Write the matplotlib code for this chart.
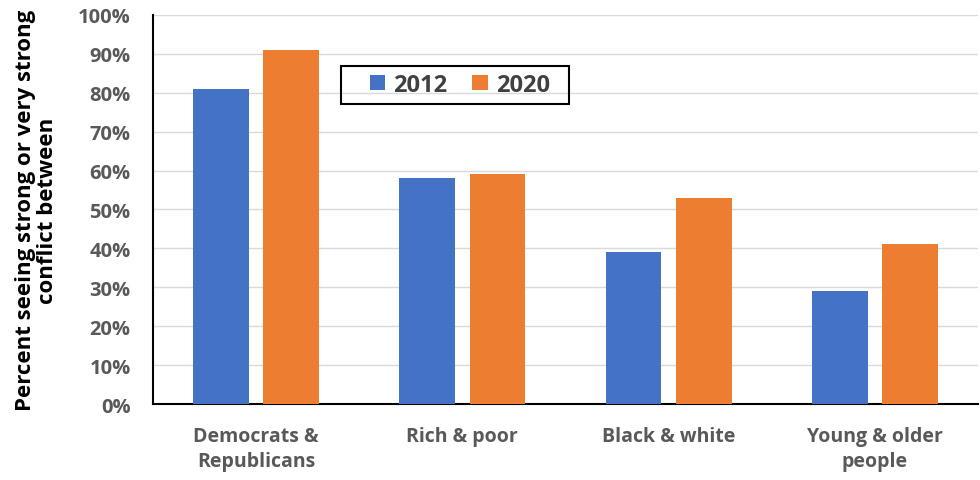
import matplotlib.pyplot as plt
import numpy as np
from matplotlib.patches import Rectangle
from matplotlib.ticker import PercentFormatter

categories = ["Democrats &\nRepublicans", "Rich & poor", "Black & white", "Young & older\npeople"]
vals_2012 = [81, 58, 39, 29]
vals_2020 = [91, 59, 53, 41]
series_labels = ["2012", "2020"]

BLUE = "#4472C4"
ORANGE = "#ED7D31"
GREY = "#595959"

plt.rcParams["font.family"] = ["Open Sans", "DejaVu Sans"]
plt.rcParams["font.weight"] = "bold"

fig = plt.figure(figsize=(9.8, 4.81), dpi=100)
ax = fig.add_axes([0.156, 0.158, 0.842, 0.809])

x = np.arange(len(categories))
w = 0.27
ax.bar(x - 0.17, vals_2012, w, color=BLUE, label=series_labels[0], zorder=3)
ax.bar(x + 0.17, vals_2020, w, color=ORANGE, label=series_labels[1], zorder=3)

ax.set_xlim(-0.5, len(categories) - 0.5)
ax.set_ylim(0, 100)
ax.set_yticks(np.arange(0, 101, 10))
ax.yaxis.set_major_formatter(PercentFormatter(decimals=0))
ax.grid(axis="y", color="#D9D9D9", linewidth=1, zorder=0)
ax.set_xticks(x)
ax.set_xticklabels(categories, fontsize=14, color=GREY, fontweight="bold", linespacing=1.3)
ax.tick_params(axis="y", labelsize=14.5, labelcolor=GREY, length=0, pad=16)
ax.tick_params(axis="x", length=0, pad=16)
for lab in ax.get_yticklabels():
    lab.set_fontweight("bold")

for s in ("top", "right"):
    ax.spines[s].set_visible(False)
for s in ("left", "bottom"):
    ax.spines[s].set_color("black")
    ax.spines[s].set_linewidth(1.5)

ax.set_ylabel("Percent seeing strong or very strong\nconflict between", fontsize=16,
              fontweight="bold", color="black", labelpad=14, linespacing=1.1)

leg = ax.legend(loc="upper left", bbox_to_anchor=(0.263, 0.851), borderaxespad=0,
                ncol=2, fontsize=17, frameon=False,
                handlelength=0.65, handleheight=0.65, columnspacing=1.05,
                handletextpad=0.35, borderpad=0, labelcolor="#404040")
for t in leg.get_texts():
    t.set_fontweight("bold")

# Excel-style legend box: wider padding on the left than on the right
fig.canvas.draw()
bb = leg.get_window_extent()
frame = Rectangle((bb.x0 - 29, bb.y0 - 7), bb.width + 48, bb.height + 14,
                  transform=None, fill=False, edgecolor="black", linewidth=1.5,
                  zorder=5)
fig.add_artist(frame)

fig.savefig("out.png", dpi=100)
